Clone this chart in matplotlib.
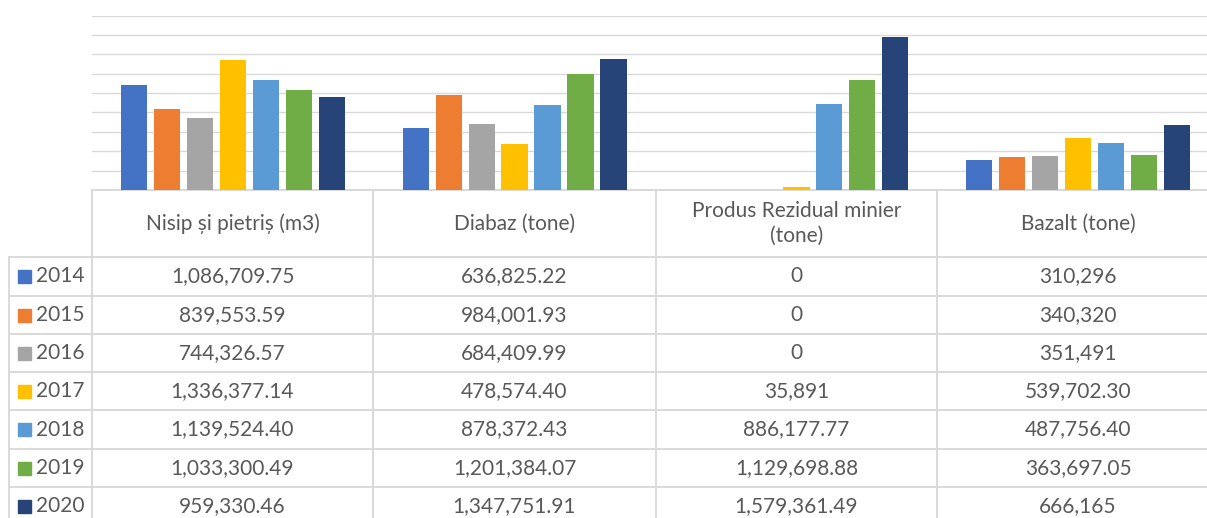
import matplotlib
matplotlib.use("Agg")
import matplotlib.pyplot as plt
from matplotlib.lines import Line2D
from matplotlib.patches import Rectangle

plt.rcParams['font.family'] = ['Lato', 'DejaVu Sans']

categories = ["Nisip și pietriș (m3)", "Diabaz (tone)", "Produs Rezidual minier\n(tone)", "Bazalt (tone)"]
years = ["2014", "2015", "2016", "2017", "2018", "2019", "2020"]
# displayed table strings per year (one per category)
v2014 = ["1,086,709.75", "636,825.22", "0", "310,296"]
v2015 = ["839,553.59", "984,001.93", "0", "340,320"]
v2016 = ["744,326.57", "684,409.99", "0", "351,491"]
v2017 = ["1,336,377.14", "478,574.40", "35,891", "539,702.30"]
v2018 = ["1,139,524.40", "878,372.43", "886,177.77", "487,756.40"]
v2019 = ["1,033,300.49", "1,201,384.07", "1,129,698.88", "363,697.05"]
v2020 = ["959,330.46", "1,347,751.91", "1,579,361.49", "666,165"]
series = [v2014, v2015, v2016, v2017, v2018, v2019, v2020]
colors = ["#4472C4", "#ED7D31", "#A5A5A5", "#FFC000", "#5B9BD5", "#70AD47", "#264478"]

W, H = 1207, 518
fig = plt.figure(figsize=(W / 100, H / 100), dpi=100)

def fx(px):
    return px / W

def fy(py):
    return 1 - py / H

# plot area
ax_left, ax_right, ax_top, ax_bottom = 92, 1219, 15.5, 190
ax = fig.add_axes([fx(ax_left), fy(ax_bottom), (ax_right - ax_left) / W, (ax_bottom - ax_top) / H])
ax.set_xlim(-0.5, len(categories) - 0.5)
ax.set_ylim(0, 1800000)
ax.set_yticks(range(0, 1800001, 200000))
ax.yaxis.grid(True, color="#D9D9D9", linewidth=1.0)
ax.set_axisbelow(True)
ax.tick_params(left=False, bottom=False, labelleft=False, labelbottom=False)
for s in ["top", "left", "right"]:
    ax.spines[s].set_visible(False)
ax.spines["bottom"].set_color("#D9D9D9")
ax.spines["bottom"].set_linewidth(1.4)

pitch = 0.117
bw = 0.0934
n = len(years)
for j, (vals, c) in enumerate(zip(series, colors)):
    nums = [float(v.replace(",", "")) for v in vals]
    xs = [i + (j - (n - 1) / 2) * pitch for i in range(len(categories))]
    ax.bar(xs, nums, width=bw, color=c, zorder=3)

# table
line_c = "#D9D9D9"
lw = 1.4
txt_c = "#595959"
fs = 15
col_edges = [92, 373, 656, 937, 1219]
row_edges = [257, 296, 334, 372, 410, 449, 487, 526]
header_top = 190

def hline(y, x0, x1):
    fig.add_artist(Line2D([fx(x0), fx(x1)], [fy(y), fy(y)], color=line_c, lw=lw, transform=fig.transFigure))

def vline(x, y0, y1):
    fig.add_artist(Line2D([fx(x), fx(x)], [fy(y0), fy(y1)], color=line_c, lw=lw, transform=fig.transFigure))

for x in col_edges[:-1]:
    vline(x, header_top, H + 5)
vline(9, row_edges[0], H + 5)
for y in row_edges[:-1]:
    hline(y, 9, W + 5)

for i, cat in enumerate(categories):
    cx = (col_edges[i] + col_edges[i + 1]) / 2
    fig.text(fx(cx), fy((header_top + row_edges[0]) / 2), cat, ha="center", va="center",
             fontsize=fs, color=txt_c, linespacing=1.35)

for j, (yr, vals, c) in enumerate(zip(years, series, colors)):
    cy = (row_edges[j] + row_edges[j + 1]) / 2
    fig.add_artist(Rectangle((fx(18), fy(cy + 6.5)), 13 / W, 13 / H, color=c, transform=fig.transFigure))
    fig.text(fx(36), fy(cy), yr, ha="left", va="center", fontsize=fs, color=txt_c)
    for i, v in enumerate(vals):
        cx = (col_edges[i] + col_edges[i + 1]) / 2
        fig.text(fx(cx), fy(cy), v, ha="center", va="center", fontsize=fs, color=txt_c)

fig.savefig("out.png", dpi=100)
